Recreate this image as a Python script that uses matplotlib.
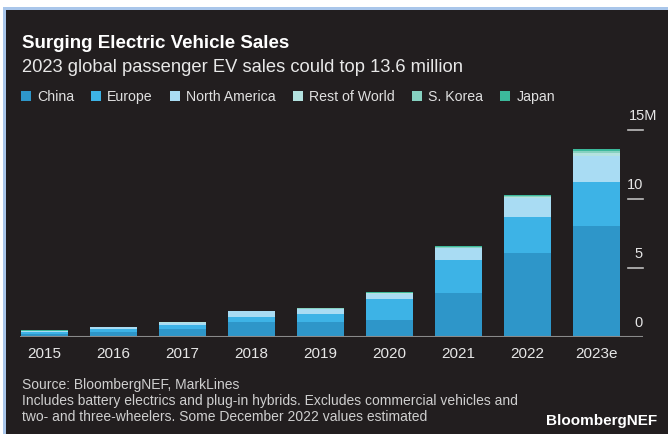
import matplotlib
matplotlib.use("Agg")
import matplotlib.pyplot as plt
from matplotlib.patches import Rectangle
import numpy as np

years = ["2015", "2016", "2017", "2018", "2019", "2020", "2021", "2022", "2023e"]
series_names = ["China", "Europe", "North America", "Rest of World", "S. Korea", "Japan"]
china = [0.20, 0.35, 0.60, 1.06, 1.06, 1.23, 3.20, 6.07, 8.04]
europe = [0.17, 0.22, 0.28, 0.41, 0.61, 1.52, 2.37, 2.60, 3.21]
north_america = [0.08, 0.15, 0.17, 0.38, 0.36, 0.40, 0.85, 1.38, 1.90]
rest_of_world = [0.01, 0.02, 0.02, 0.03, 0.03, 0.03, 0.06, 0.10, 0.18]
s_korea = [0.01, 0.01, 0.01, 0.02, 0.03, 0.03, 0.05, 0.08, 0.15]
japan = [0.01, 0.01, 0.01, 0.02, 0.02, 0.02, 0.03, 0.07, 0.17]
yticks = [0, 5, 10, 15]
ytick_labels = ["0", "5", "10", "15M"]

colors = ["#2e96c9", "#3db3e6", "#a9dcf3", "#b3e2df", "#86d1c0", "#3cb99b"]
bg = "#221e1f"

plt.rcParams['font.family'] = ['Liberation Sans', 'DejaVu Sans']

W, H = 668, 434
fig = plt.figure(figsize=(W / 100, H / 100), dpi=100)
fig.patch.set_facecolor("white")

# dark panel with light border
fig.patches.append(Rectangle((3 / W, 0), 1, 1 - 7 / H, transform=fig.transFigure,
                             facecolor="#a9c6ea", edgecolor="none", zorder=-3))
fig.patches.append(Rectangle((6 / W, 0), 1, 1 - 10 / H, transform=fig.transFigure,
                             facecolor=bg, edgecolor="none", zorder=-2))

ax_left, ax_right = 20, 643
ax_bottom, ax_top = 337, 130
ax = fig.add_axes([ax_left / W, (H - ax_bottom) / H, (ax_right - ax_left) / W,
                   (ax_bottom - ax_top) / H])
ax.set_facecolor("none")

x = np.arange(len(years))
bottom = np.zeros(len(years))
data = [china, europe, north_america, rest_of_world, s_korea, japan]
handles = []
for vals, c, name in zip(data, colors, series_names):
    b = ax.bar(x, vals, bottom=bottom, width=0.68, color=c, edgecolor="none",
               label=name, zorder=2)
    handles.append(b)
    bottom += np.array(vals)

px_per_unit = 69.0
xmin = -24.5 / px_per_unit
xmax = xmin + (ax_right - ax_left) / px_per_unit
ax.set_xlim(xmin, xmax)
ax.set_ylim(0, 15)
for s in ax.spines.values():
    s.set_visible(False)
ax.axhline(0, color="#8a8a8a", lw=1.5, zorder=3)
ax.set_yticks([])
ax.set_xticks(x)
ax.set_xticklabels(years, color="#e6e6e6", fontsize=11)
ax.tick_params(axis="x", length=0, pad=7)

tick_x0 = xmax - 15 / px_per_unit
for v, lab in zip(yticks, ytick_labels):
    if v > 0:
        ax.plot([tick_x0, xmax], [v, v], color="#bdbdbd", lw=1.2, clip_on=False)
    if lab.endswith("M"):
        ax.text(tick_x0 + 1 / px_per_unit, v + 0.5, lab, ha="left", va="bottom",
                color="#e6e6e6", fontsize=10.5)
    else:
        ax.text(xmax, v + 0.5, lab, ha="right", va="bottom",
                color="#e6e6e6", fontsize=10.5)

fig.text(22 / W, 1 - 44 / H, "Surging Electric Vehicle Sales", color="white",
         fontsize=13.5, fontweight="bold", va="center", ha="left")
fig.text(22 / W, 1 - 67 / H, "2023 global passenger EV sales could top 13.6 million",
         color="#e8e8e8", fontsize=13.2, va="center", ha="left")

leg = fig.legend(handles=handles, labels=series_names, loc="center left",
                 bbox_to_anchor=(15 / W, 1 - 97 / H), ncol=6, frameon=False,
                 fontsize=10.2, handlelength=0.7, handleheight=0.7,
                 handletextpad=0.45, columnspacing=1.2, borderaxespad=0)
for t in leg.get_texts():
    t.set_color("#e0e0e0")

foot = ["Source: BloombergNEF, MarkLines",
        "Includes battery electrics and plug-in hybrids. Excludes commercial vehicles and",
        "two- and three-wheelers. Some December 2022 values estimated"]
for i, line in enumerate(foot):
    fig.text(22 / W, 1 - (385 + 16 * i) / H, line, color="#cfcfcf", fontsize=10,
             va="center", ha="left")
fig.text(657 / W, 1 - 421 / H, "BloombergNEF", color="white", fontsize=11,
         fontweight="bold", va="center", ha="right")

fig.savefig("out.png", dpi=100, facecolor=fig.get_facecolor())
